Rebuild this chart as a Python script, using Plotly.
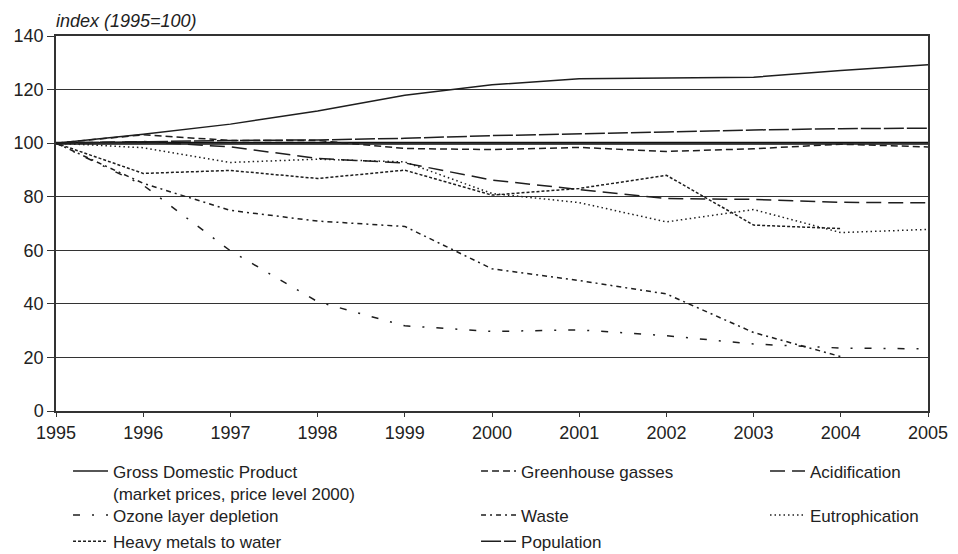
import plotly.graph_objects as go

years = [1995, 1996, 1997, 1998, 1999, 2000, 2001, 2002, 2003, 2004, 2005]

gdp = [100, 103.3, 107.1, 112.0, 117.9, 121.8, 124.0, 124.3, 124.6, 127.1, 129.3]
greenhouse = [100, 103.1, 101.0, 101.0, 98.0, 97.6, 98.4, 96.9, 97.9, 99.6, 98.6]
acidification = [100, 100.6, 98.6, 94.3, 92.6, 86.2, 82.7, 79.3, 79.0, 77.9, 77.7]
ozone = [100, 84.3, 59.8, 40.8, 31.8, 29.7, 30.3, 28.1, 25.0, 23.5, 23.2]
waste = [100, 85.0, 74.9, 70.9, 68.9, 53.1, 48.7, 43.7, 29.3, 20.3, None]
eutrophication = [100, 98.3, 92.8, 94.0, 93.0, 81.2, 77.8, 70.6, 75.2, 66.6, 67.8]
heavy_metals = [100, 88.7, 89.8, 86.8, 89.9, 80.6, 83.1, 88.0, 69.4, 68.1, None]
population = [100, 100.5, 101.0, 101.2, 101.8, 102.8, 103.6, 104.2, 104.9, 105.4, 105.6]

# legend grid: column / row of each entry
series = [
    # name, values, dash, column, row
    ("Gross Domestic Product<br>(market prices, price level 2000)", gdp, "solid", 0, 0),
    ("Greenhouse gasses", greenhouse, "7px,4px", 1, 0),
    ("Acidification", acidification, "15px,7px", 2, 0),
    ("Ozone layer depletion", ozone, "7px,12px,2px,12px", 0, 1),
    ("Waste", waste, "5px,4px,2px,4px", 1, 1),
    ("Eutrophication", eutrophication, "1.5px,3px", 2, 1),
    ("Heavy metals to water", heavy_metals, "3px,2px", 0, 2),
    ("Population", population, "20px,3px", 1, 2),
]

col_x = [0.0138, 0.4817, 0.8131]      # paper x of legend columns
row_y = [-0.1133, -0.2307, -0.3007]   # paper y (top) of legend rows

FONT = "Liberation Sans, Arial, sans-serif"
LINE = "#1e1e1e"

fig = go.Figure()
legends = {}
for i, (name, vals, dash, col, row) in enumerate(series):
    key = "legend" if i == 0 else f"legend{i + 1}"
    fig.add_trace(go.Scatter(
        x=years, y=vals, mode="lines", name=name,
        line=dict(color=LINE, width=1.5, dash=dash),
        legend=key, connectgaps=False,
    ))
    legends[key] = dict(
        orientation="v", yanchor="top", xanchor="left",
        x=col_x[col], y=row_y[row],
        font=dict(family=FONT, size=17, color="#222"),
        itemwidth=35, valign="top",
        bgcolor="rgba(0,0,0,0)", borderwidth=0,
        itemclick=False, itemdoubleclick=False,
    )

fig.add_hline(y=100, line_width=3, line_color="#111111", layer="below")

fig.update_layout(
    width=958, height=554,
    margin=dict(l=56, r=30, t=36, b=143, autoexpand=False),
    paper_bgcolor="white", plot_bgcolor="white",
    font=dict(family=FONT, size=18, color="#222"),
    showlegend=True,
    **legends,
    xaxis=dict(
        range=[1995, 2005], tickmode="array", tickvals=years,
        ticktext=[str(y) for y in years],
        showgrid=False, zeroline=False,
        showline=True, linecolor="#333", linewidth=1.5, mirror=True,
        ticks="outside", ticklen=4, tickcolor="#333", tickwidth=1.2,
        ticklabelstandoff=1,
        tickfont=dict(family=FONT, size=18, color="#222"),
    ),
    yaxis=dict(
        range=[0, 140], dtick=20, tick0=0,
        showgrid=True, gridcolor="#333", gridwidth=1.3,
        zeroline=False,
        showline=True, linecolor="#333", linewidth=1.5, mirror=True,
        ticks="outside", ticklen=7, tickcolor="#333", tickwidth=1.2,
        tickfont=dict(family=FONT, size=18, color="#222"),
    ),
    annotations=[dict(
        text="<i>index (1995=100)</i>", xref="paper", yref="paper",
        x=0, y=1, xanchor="left", yanchor="bottom", xshift=-2, yshift=3,
        showarrow=False, font=dict(family=FONT, size=18, color="#222"),
    )],
)

fig.write_html("out.html", config={"displayModeBar": False},
               post_script="document.body.style.margin='0';")
